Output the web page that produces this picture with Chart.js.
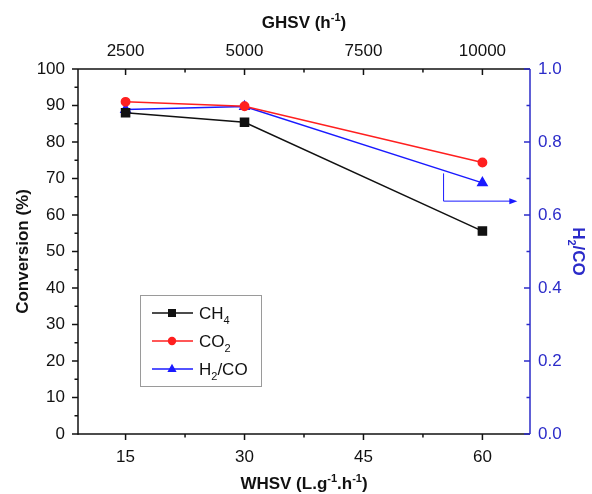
<!DOCTYPE html>
<html>
<head>
<meta charset="utf-8">
<script src="https://cdn.jsdelivr.net/npm/chart.js@4.4.1/dist/chart.umd.min.js"></script>
<style>
  html, body { margin: 0; padding: 0; background: #fff; }
  canvas { display: block; }
</style>
</head>
<body>
<canvas id="chart" width="592" height="494"></canvas>
<script>
// --- data ---
const whsv = [15, 30, 60];
const ch4Conv = [88.0, 85.4, 55.6];
const co2Conv = [91.0, 89.8, 74.4];
const h2coRatio = [0.889, 0.897, 0.688];

const whsvTicks = [15, 30, 45, 60];
const ghsvTicks = [2500, 5000, 7500, 10000];
const convTicks = [0, 10, 20, 30, 40, 50, 60, 70, 80, 90, 100];
const ratioTicks = [0, 0.2, 0.4, 0.6, 0.8, 1.0];

const WHSV_MIN = 9, WHSV_MAX = 66;
const GHSV_PER_WHSV = 2500 / 15;

const FONT = "'Liberation Sans', Arial, sans-serif";
const BLACK = '#111111';
const RED = '#ff1f1f';
const BLUE = '#1a1aff';
const AXIS_BLUE = '#2b2bc9';

function pts(xs, ys) {
  return xs.map((x, i) => ({ x: x, y: ys[i] }));
}

// text with sub/superscripts
function richText(ctx, parts, x, y, size, color, opts) {
  opts = opts || {};
  ctx.save();
  ctx.translate(x, y);
  ctx.rotate(opts.rot || 0);
  ctx.fillStyle = color;
  ctx.textBaseline = 'alphabetic';
  ctx.textAlign = 'left';
  const weight = opts.bold ? 'bold ' : '';
  const fontOf = p => weight + ((p.sup || p.sub) ? Math.round(size * 0.62) : size) + 'px ' + FONT;
  let total = 0;
  parts.forEach(p => { ctx.font = fontOf(p); total += ctx.measureText(p.t).width; });
  let cx = opts.align === 'left' ? 0 : -total / 2;
  parts.forEach(p => {
    ctx.font = fontOf(p);
    const dy = p.sup ? -size * 0.4 : p.sub ? size * 0.28 : 0;
    ctx.fillText(p.t, cx, size * 0.36 + dy);
    cx += ctx.measureText(p.t).width;
  });
  ctx.restore();
}

function marker(ctx, style, x, y, color) {
  ctx.save();
  ctx.fillStyle = color;
  ctx.beginPath();
  if (style === 'rect') {
    ctx.rect(x - 4, y - 4, 8, 8);
  } else if (style === 'circle') {
    ctx.arc(x, y, 4.2, 0, Math.PI * 2);
  } else {
    ctx.moveTo(x, y - 5.2);
    ctx.lineTo(x + 4.6, y + 3);
    ctx.lineTo(x - 4.6, y + 3);
    ctx.closePath();
  }
  ctx.fill();
  ctx.restore();
}

const frameAndTicks = {
  id: 'frameAndTicks',
  afterDatasetsDraw(chart) {
    const ctx = chart.ctx;
    const a = chart.chartArea;
    const s = chart.scales;
    ctx.save();
    ctx.lineWidth = 1.5;
    ctx.lineCap = 'butt';

    function seg(x1, y1, x2, y2, c) {
      ctx.strokeStyle = c;
      ctx.beginPath();
      ctx.moveTo(x1, y1);
      ctx.lineTo(x2, y2);
      ctx.stroke();
    }
    // axis lines
    seg(a.left, a.bottom, a.right, a.bottom, BLACK);
    seg(a.left, a.top, a.right, a.top, BLACK);
    seg(a.left, a.top, a.left, a.bottom + 0.75, BLACK);
    seg(a.right, a.top, a.right, a.bottom, AXIS_BLUE);

    function mids(t) {
      const m = [];
      for (let i = 0; i < t.length - 1; i++) m.push((t[i] + t[i + 1]) / 2);
      return m;
    }
    // bottom: outward
    whsvTicks.forEach(v => { const px = s.x.getPixelForValue(v); seg(px, a.bottom, px, a.bottom + 6, BLACK); });
    mids(whsvTicks).forEach(v => { const px = s.x.getPixelForValue(v); seg(px, a.bottom, px, a.bottom + 3.5, BLACK); });
    // top: inward
    ghsvTicks.forEach(v => { const px = s.x2.getPixelForValue(v); seg(px, a.top, px, a.top + 6, BLACK); });
    mids(ghsvTicks).forEach(v => { const px = s.x2.getPixelForValue(v); seg(px, a.top, px, a.top + 3.5, BLACK); });
    // left: outward
    convTicks.forEach(v => { const py = s.y.getPixelForValue(v); seg(a.left - 6, py, a.left, py, BLACK); });
    mids(convTicks).forEach(v => { const py = s.y.getPixelForValue(v); seg(a.left - 3.5, py, a.left, py, BLACK); });
    // right: inward
    ratioTicks.forEach(v => { const py = s.y1.getPixelForValue(v); seg(a.right - 6, py, a.right, py, AXIS_BLUE); });
    mids(ratioTicks).forEach(v => { const py = s.y1.getPixelForValue(v); seg(a.right - 3.5, py, a.right, py, AXIS_BLUE); });

    // arrow pointing the H2/CO curve to its axis
    const ax = 55.1, ay = 0.638, axEnd = 64.4;
    const k = (ax - whsv[1]) / (whsv[2] - whsv[1]);
    const onLine = h2coRatio[1] + k * (h2coRatio[2] - h2coRatio[1]);
    const x0 = s.x.getPixelForValue(ax);
    const y0 = s.y1.getPixelForValue(onLine) + 3;
    const y1 = s.y1.getPixelForValue(ay);
    const x1 = s.x.getPixelForValue(axEnd);
    ctx.lineWidth = 1;
    ctx.strokeStyle = BLUE;
    ctx.beginPath();
    ctx.moveTo(x0, y0);
    ctx.lineTo(x0, y1);
    ctx.lineTo(x1 - 6, y1);
    ctx.stroke();
    ctx.fillStyle = BLUE;
    ctx.beginPath();
    ctx.moveTo(x1, y1);
    ctx.lineTo(x1 - 8, y1 - 3);
    ctx.lineTo(x1 - 8, y1 + 3);
    ctx.closePath();
    ctx.fill();

    // axis titles
    const midX = (a.left + a.right) / 2;
    const midY = (a.top + a.bottom) / 2;
    richText(ctx, [{ t: 'GHSV (h' }, { t: '-1', sup: true }, { t: ')' }], midX, 22, 17, BLACK, { bold: true });
    richText(ctx, [{ t: 'WHSV (L.g' }, { t: '-1', sup: true }, { t: '.h' }, { t: '-1', sup: true }, { t: ')' }],
      midX, 483, 17, BLACK, { bold: true });
    richText(ctx, [{ t: 'Conversion (%)' }], 22, midY, 17, BLACK, { bold: true, rot: -Math.PI / 2 });
    richText(ctx, [{ t: 'H' }, { t: '2', sub: true }, { t: '/CO' }], 579, midY, 17, AXIS_BLUE, { bold: true, rot: Math.PI / 2 });

    // legend box
    const L = { x: 140, y: 295, w: 121, h: 91 };
    ctx.lineWidth = 1;
    ctx.strokeStyle = '#9a9a9a';
    ctx.strokeRect(L.x + 0.5, L.y + 0.5, L.w, L.h);
    const rows = [
      { parts: [{ t: 'CH' }, { t: '4', sub: true }], color: BLACK, style: 'rect' },
      { parts: [{ t: 'CO' }, { t: '2', sub: true }], color: RED, style: 'circle' },
      { parts: [{ t: 'H' }, { t: '2', sub: true }, { t: '/CO' }], color: BLUE, style: 'triangle' }
    ];
    rows.forEach((r, i) => {
      const ry = L.y + 18 + i * 28;
      ctx.lineWidth = 1.5;
      seg(L.x + 12, ry, L.x + 53, ry, r.color);
      marker(ctx, r.style, L.x + 32, ry, r.color);
      richText(ctx, r.parts, L.x + 59, ry, 17, BLACK, { align: 'left' });
    });
    ctx.restore();
  }
};

const tickFont = { family: FONT, size: 17 };

new Chart(document.getElementById('chart'), {
  type: 'scatter',
  data: {
    datasets: [
      {
        label: 'CH4', data: pts(whsv, ch4Conv), yAxisID: 'y', xAxisID: 'x',
        showLine: true, borderColor: BLACK, backgroundColor: BLACK, borderWidth: 1.5,
        pointStyle: 'rect', pointRadius: 5.7, pointHoverRadius: 5.7
      },
      {
        label: 'CO2', data: pts(whsv, co2Conv), yAxisID: 'y', xAxisID: 'x',
        showLine: true, borderColor: RED, backgroundColor: RED, borderWidth: 1.5,
        pointStyle: 'circle', pointRadius: 4.2, pointHoverRadius: 4.2
      },
      {
        label: 'H2/CO', data: pts(whsv, h2coRatio), yAxisID: 'y1', xAxisID: 'x',
        showLine: true, borderColor: BLUE, backgroundColor: BLUE, borderWidth: 1.5,
        pointStyle: 'triangle', pointRadius: 5.3, pointHoverRadius: 5.3
      }
    ]
  },
  options: {
    responsive: false,
    animation: false,
    layout: { padding: 0 },
    plugins: { legend: { display: false }, tooltip: { enabled: false } },
    scales: {
      x: {
        type: 'linear', position: 'bottom', min: WHSV_MIN, max: WHSV_MAX,
        afterBuildTicks: sc => { sc.ticks = whsvTicks.map(v => ({ value: v })); },
        afterFit: sc => { sc.height = 60; },
        grid: { display: false, drawTicks: false }, border: { display: false },
        ticks: { font: tickFont, color: BLACK, padding: 13, maxRotation: 0 }
      },
      x2: {
        type: 'linear', position: 'top',
        min: WHSV_MIN * GHSV_PER_WHSV, max: WHSV_MAX * GHSV_PER_WHSV,
        afterBuildTicks: sc => { sc.ticks = ghsvTicks.map(v => ({ value: v })); },
        afterFit: sc => { sc.height = 69; },
        grid: { display: false, drawTicks: false }, border: { display: false },
        ticks: { font: tickFont, color: BLACK, padding: 7, maxRotation: 0, callback: v => String(v) }
      },
      y: {
        type: 'linear', position: 'left', min: 0, max: 100,
        afterBuildTicks: sc => { sc.ticks = convTicks.map(v => ({ value: v })); },
        afterFit: sc => { sc.width = 78; },
        grid: { display: false, drawTicks: false }, border: { display: false },
        ticks: { font: tickFont, color: BLACK, padding: 13 }
      },
      y1: {
        type: 'linear', position: 'right', min: 0, max: 1,
        afterBuildTicks: sc => { sc.ticks = ratioTicks.map(v => ({ value: v })); },
        afterFit: sc => { sc.width = 62; },
        grid: { display: false, drawTicks: false }, border: { display: false },
        ticks: { font: tickFont, color: AXIS_BLUE, padding: 8, callback: v => v.toFixed(1) }
      }
    }
  },
  plugins: [frameAndTicks]
});
</script>
</body>
</html>
